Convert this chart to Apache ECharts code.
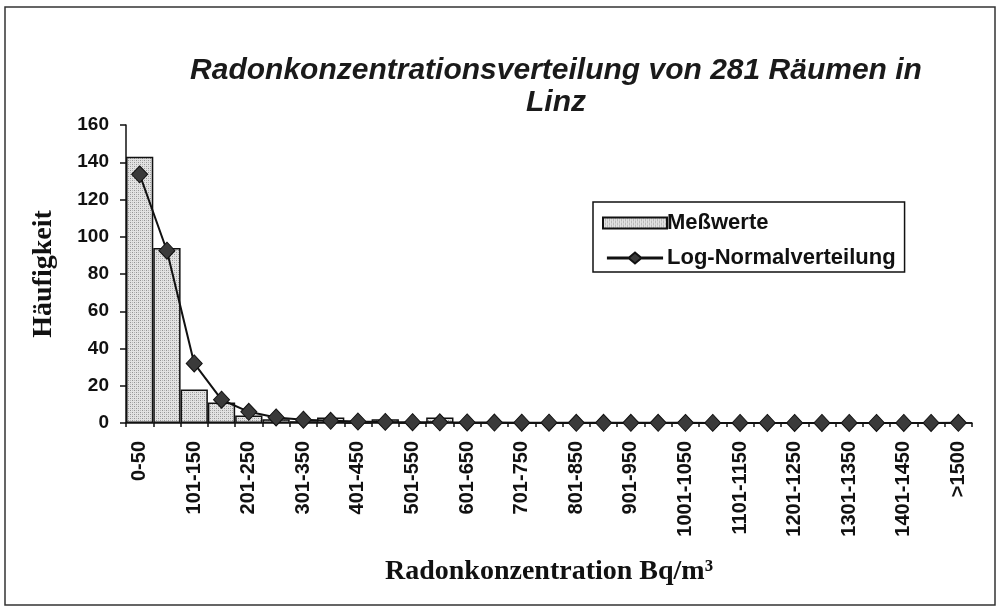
<!DOCTYPE html>
<html>
<head>
<meta charset="utf-8">
<script src="https://cdn.jsdelivr.net/npm/echarts@6/dist/echarts.min.js"></script>
<style>
html,body{margin:0;padding:0;background:#fff;}
#chart{width:1001px;height:612px;}
</style>
</head>
<body>
<div id="chart"></div>
<script>
var categories = ['0-50','51-100','101-150','151-200','201-250','251-300','301-350','351-400','401-450','451-500',
  '501-550','551-600','601-650','651-700','701-750','751-800','801-850','851-900','901-950','951-1000',
  '1001-1050','1051-1100','1101-1150','1151-1200','1201-1250','1251-1300','1301-1350','1351-1400','1401-1450','1451-1500','>1500'];
var messwerte = [143,94,18,11,4,2,1,3,0,2,0,3,0,0,0,0,0,0,0,0,0,0,0,0,0,0,0,0,0,0,0];
var logNormal = [133.5,92.5,32,12.5,6,3,1.8,1.2,0.8,0.6,0.45,0.35,0.28,0.22,0.18,0.15,0.12,0.1,0.09,0.08,0.07,0.06,0.05,0.045,0.04,0.035,0.03,0.03,0.025,0.02,0.1];
var yTicks = {min:0, max:160, interval:20};

function makePattern(){
  var c = document.createElement('canvas');
  c.width = 4; c.height = 4;
  var g = c.getContext('2d');
  g.fillStyle = '#e3e3e3'; g.fillRect(0,0,4,4);
  g.fillStyle = '#949494'; g.fillRect(0,0,1,1); g.fillRect(2,2,1,1);
  g.fillStyle = '#b8b8b8'; g.fillRect(2,0,1,1); g.fillRect(0,2,1,1);
  return c;
}
var pat = {image: makePattern(), repeat: 'repeat'};

var chart = echarts.init(document.getElementById('chart'));
chart.setOption({
  animation:false,
  backgroundColor:'#fff',
  title:{
    text:'Radonkonzentrationsverteilung von 281 Räumen in\nLinz',
    left:551, top:50, textAlign:'center',
    textStyle:{fontFamily:'Liberation Sans', fontSize:30, fontWeight:'bold', fontStyle:'italic', color:'#1a1a1a', lineHeight:32}
  },
  graphic:[{type:'rect', shape:{x:5,y:7,width:990,height:598}, style:{fill:'none', stroke:'#333', lineWidth:1.5}, silent:true}],
  legend:{
    orient:'vertical', left:593, top:202,
    itemWidth:64, itemHeight:11, itemGap:13,
    padding:[10,9,3,9],
    borderColor:'#111', borderWidth:1.5,
    textStyle:{fontFamily:'Liberation Sans', fontSize:22, fontWeight:'bold', color:'#111', padding:[0,0,0,-5]},
    data:[
      {name:'Meßwerte', icon:'rect'},
      {name:'Log-Normalverteilung', icon:'path://M0,4.4 L25,4.4 L32,-1.5 L39,4.4 L64,4.4 L64,5.6 L39,5.6 L32,11.5 L25,5.6 L0,5.6 Z'}
    ]
  },
  grid:{left:126, right:29, top:125, bottom:189},
  xAxis:{
    type:'category', data:categories, boundaryGap:true,
    axisLine:{lineStyle:{color:'#111', width:1.5}},
    axisTick:{show:true, alignWithLabel:false, interval:0, length:4, lineStyle:{color:'#111', width:1.5}},
    axisLabel:{interval:1, rotate:90, margin:18, fontFamily:'Liberation Sans', fontSize:20, fontWeight:'bold', color:'#111'},
    name:'Radonkonzentration Bq/m³', nameLocation:'middle', nameGap:135,
    nameTextStyle:{fontFamily:'Liberation Serif', fontSize:28, fontWeight:'bold', color:'#111'}
  },
  yAxis:{
    type:'value', min:yTicks.min, max:yTicks.max, interval:yTicks.interval,
    splitLine:{show:false},
    axisLine:{show:true, lineStyle:{color:'#111', width:1.5}},
    axisTick:{show:true, length:6, lineStyle:{color:'#111', width:1.5}},
    axisLabel:{margin:17, fontFamily:'Liberation Sans', fontSize:19, fontWeight:'bold', color:'#111'},
    name:'Häufigkeit', nameLocation:'middle', nameGap:68, nameRotate:90,
    nameTextStyle:{fontFamily:'Liberation Serif', fontSize:28, fontWeight:'bold', color:'#111'}
  },
  series:[
    {name:'Meßwerte', type:'bar', data:messwerte, barCategoryGap:'0%',
     itemStyle:{color:pat, borderColor:'#111', borderWidth:1.5}},
    {name:'Log-Normalverteilung', type:'line', data:logNormal,
     symbol:'diamond', symbolSize:[16,17],
     lineStyle:{color:'#111', width:2},
     itemStyle:{color:'#3a3a3a', borderColor:'#111', borderWidth:1}}
  ]
});
</script>
</body>
</html>
